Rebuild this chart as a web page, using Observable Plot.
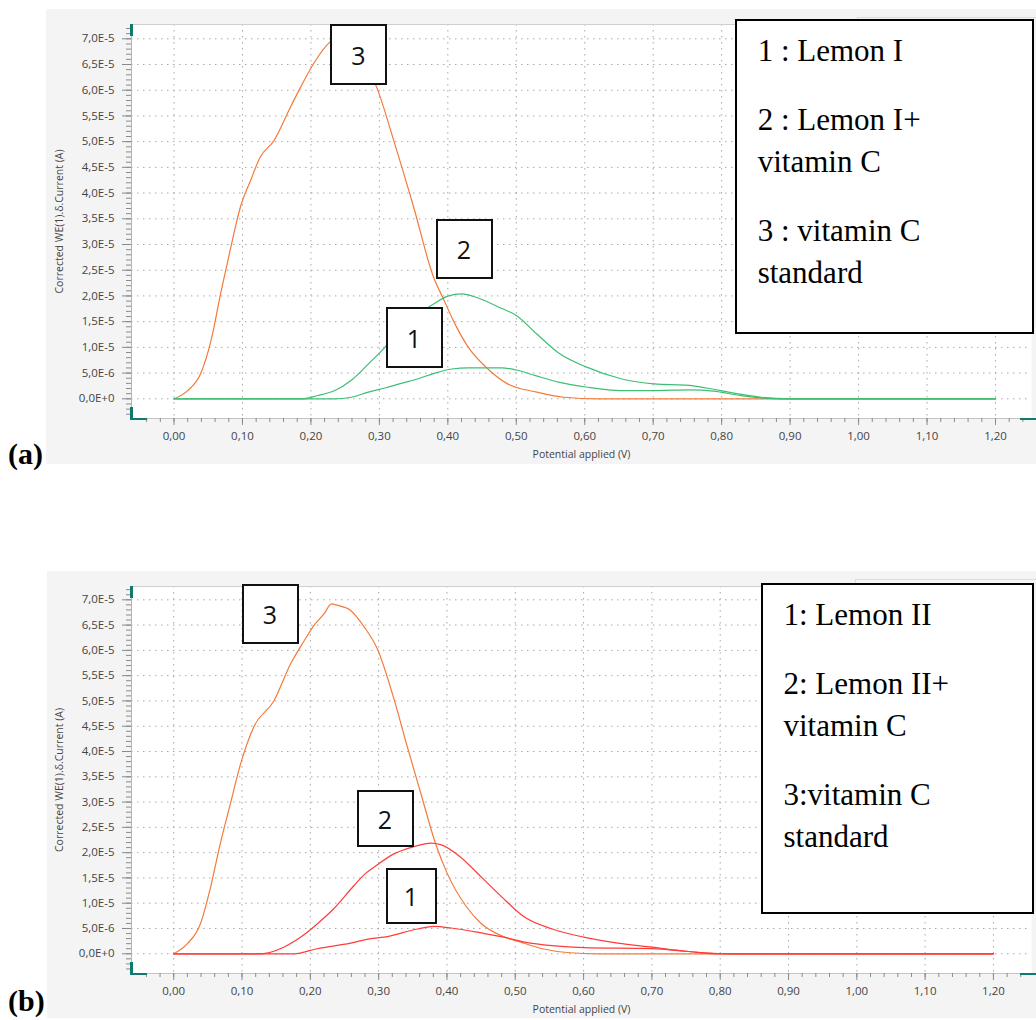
<!DOCTYPE html>
<html>
<head>
<meta charset="utf-8">
<script src="https://cdn.jsdelivr.net/npm/d3@7"></script>
<script src="https://cdn.jsdelivr.net/npm/@observablehq/plot@0.6"></script>
<style>
  body { margin: 0; background: #fff; }
  #root { position: relative; width: 1036px; height: 1020px; overflow: hidden; background: #fff; }
  .panel { position: absolute; background: #f4f4f4; }
  .panel svg { display: block; }
  .legend { position: absolute; border: 2px solid #000; background: #fff; box-sizing: border-box; }
  .ltext { position: absolute; font-family: "Liberation Serif", "Times New Roman", serif; font-size: 31px; line-height: 31px; color: #000; white-space: nowrap; }
  .num { position: absolute; border: 2px solid #111; background: #fff; box-sizing: border-box;
         font-family: "Open Sans", "Liberation Sans", sans-serif; font-size: 25px; color: #111;
         display: flex; align-items: center; justify-content: center; }
  .tag { position: absolute; font-family: "Liberation Serif", "Times New Roman", serif; font-weight: bold; font-size: 30px; line-height: 30px; color: #000; }
  .teal { position: absolute; background: #117a70; }
  .ghost { position: absolute; border-top: 1px solid #dcdcdc; border-left: 1px solid #dcdcdc; }
</style>
</head>
<body>
<div id="root"></div>
<script>
// ---------- data (potential in V, current in A) ----------
const potA1 = [0, 0.1, 0.235, 0.259, 0.284, 0.308, 0.332, 0.357, 0.381, 0.406, 0.43, 0.455, 0.479, 0.5, 0.528, 0.563, 0.602, 0.653, 0.701, 0.753, 0.788, 0.828, 0.868, 0.9, 1.0, 1.1, 1.2];
const curA1 = [0, 0, 0, 0.3e-6, 1.3e-6, 2.1e-6, 3.0e-6, 3.9e-6, 5.0e-6, 5.8e-6, 6.0e-6, 6.0e-6, 6.0e-6, 5.6e-6, 4.5e-6, 3.2e-6, 2.3e-6, 1.6e-6, 1.6e-6, 1.75e-6, 1.5e-6, 0.6e-6, 0.1e-6, 0, 0, 0, 0];

const potA2 = [0, 0.1, 0.186, 0.21, 0.235, 0.259, 0.284, 0.308, 0.332, 0.357, 0.381, 0.401, 0.42, 0.444, 0.478, 0.5, 0.53, 0.563, 0.602, 0.653, 0.701, 0.753, 0.778, 0.818, 0.858, 0.9, 1.0, 1.1, 1.2];
const curA2 = [0, 0, 0, 0.65e-6, 1.6e-6, 3.6e-6, 6.8e-6, 10.0e-6, 13.9e-6, 16.5e-6, 18.6e-6, 20.0e-6, 20.4e-6, 19.6e-6, 17.6e-6, 16.2e-6, 12.6e-6, 8.8e-6, 6.2e-6, 3.9e-6, 2.9e-6, 2.6e-6, 2.1e-6, 1.1e-6, 0.3e-6, 0, 0, 0, 0];

const potA3 = [0, 0.02, 0.039, 0.054, 0.068, 0.083, 0.097, 0.112, 0.126, 0.146, 0.17, 0.185, 0.204, 0.228, 0.25, 0.27, 0.296, 0.321, 0.35, 0.379, 0.394, 0.408, 0.43, 0.457, 0.486, 0.53, 0.57, 0.62, 0.8, 1.0, 1.2];
const curA3 = [0, 1.6e-6, 4.9e-6, 11.3e-6, 20.4e-6, 29.5e-6, 37.3e-6, 42.5e-6, 47.0e-6, 50.2e-6, 56.7e-6, 60.6e-6, 65.2e-6, 69.4e-6, 70.8e-6, 67.0e-6, 60.6e-6, 50.2e-6, 37.3e-6, 23.7e-6, 19.3e-6, 15.2e-6, 10.0e-6, 6.0e-6, 3.0e-6, 1.3e-6, 0.3e-6, 0, 0, 0, 0];

const potB1 = [0, 0.176, 0.21, 0.259, 0.288, 0.308, 0.357, 0.381, 0.406, 0.455, 0.479, 0.514, 0.554, 0.6, 0.7, 0.75, 0.8, 1.0, 1.2];
const curB1 = [0, 0, 1.0e-6, 2.1e-6, 3.0e-6, 3.3e-6, 4.9e-6, 5.4e-6, 5.1e-6, 4.0e-6, 3.4e-6, 2.3e-6, 1.6e-6, 1.2e-6, 1.0e-6, 0.5e-6, 0, 0, 0];

const potB2 = [0, 0.1, 0.127, 0.161, 0.186, 0.21, 0.232, 0.264, 0.28, 0.293, 0.323, 0.352, 0.376, 0.391, 0.42, 0.45, 0.479, 0.514, 0.554, 0.6, 0.65, 0.7, 0.75, 0.79, 0.82, 1.0, 1.2];
const curB2 = [0, 0, 0, 1.3e-6, 3.3e-6, 5.9e-6, 8.6e-6, 13.5e-6, 15.8e-6, 17.1e-6, 19.8e-6, 21.2e-6, 21.9e-6, 21.6e-6, 19.1e-6, 15.2e-6, 11.4e-6, 7.2e-6, 4.9e-6, 3.3e-6, 2.1e-6, 1.3e-6, 0.5e-6, 0.1e-6, 0, 0, 0];

const potB3 = [0, 0.02, 0.039, 0.054, 0.068, 0.083, 0.098, 0.117, 0.147, 0.171, 0.191, 0.205, 0.22, 0.231, 0.24, 0.259, 0.279, 0.298, 0.323, 0.342, 0.362, 0.384, 0.4, 0.428, 0.45, 0.479, 0.508, 0.54, 0.58, 0.62, 0.8, 1.0, 1.2];
const curB3 = [0, 2.0e-6, 5.9e-6, 13.2e-6, 21.7e-6, 29.7e-6, 37.6e-6, 44.8e-6, 50.1e-6, 57.3e-6, 61.9e-6, 64.9e-6, 67.2e-6, 69.2e-6, 68.9e-6, 67.9e-6, 64.6e-6, 60.3e-6, 50.1e-6, 40.9e-6, 31.6e-6, 21.5e-6, 16.0e-6, 9.4e-6, 6.0e-6, 3.6e-6, 2.3e-6, 1.0e-6, 0.2e-6, 0, 0, 0, 0];

// tick values
const xTicks = [0, 0.1, 0.2, 0.3, 0.4, 0.5, 0.6, 0.7, 0.8, 0.9, 1.0, 1.1, 1.2];
const yTicks = [0, 0.5e-5, 1.0e-5, 1.5e-5, 2.0e-5, 2.5e-5, 3.0e-5, 3.5e-5, 4.0e-5, 4.5e-5, 5.0e-5, 5.5e-5, 6.0e-5, 6.5e-5, 7.0e-5];
const xMinor = d3.range(-2, 63).map(i => i * 0.02);
const yMinor = d3.range(-3, 73).map(i => i * 1e-6);

const legendA = ["1 : Lemon I", "2 : Lemon I+", "vitamin C", "3 : vitamin C", "standard"];
const legendB = ["1: Lemon II", "2: Lemon II+", "vitamin C", "3:vitamin C", "standard"];

const xTitle = "Potential applied (V)";
const yTitle = "Corrected WE(1).δ.Current (A)";

const ORANGE = "#f47a3a", GREEN = "#3cbf74", RED = "#ff3c3c";

function series(pot, cur, name) { return pot.map((p, i) => ({ p, c: cur[i], s: name })); }
const fmtX = d => d.toFixed(2).replace(".", ",");
const fmtY = d => {
  if (Math.abs(d) < 1e-12) return "0,0E+0";
  const e = Math.floor(Math.log10(d) + 1e-9);
  return (d / Math.pow(10, e)).toFixed(1).replace(".", ",") + "E" + e;
};

const root = document.getElementById("root");
function add(cls, css, text) {
  const el = document.createElement("div");
  el.className = cls;
  Object.assign(el.style, css);
  if (text != null) el.textContent = text;
  root.appendChild(el);
  return el;
}

function panel({left, top, width, height, mL, mT, mR, mB, xDomain, yDomain, lines}) {
  const div = add("panel", {left: left + "px", top: top + "px", width: width + "px", height: height + "px"});
  const chart = Plot.plot({
    width, height,
    marginLeft: mL, marginTop: mT, marginRight: mR, marginBottom: mB,
    style: {background: "transparent", fontFamily: "'Open Sans', 'Noto Sans', sans-serif", fontSize: "11px", color: "#555"},
    x: {domain: xDomain},
    y: {domain: yDomain},
    marks: [
      Plot.frame({fill: "white", stroke: "none"}),
      Plot.gridX(xTicks, {stroke: "#a8a8a8", strokeOpacity: 1, strokeDasharray: "1.5,4.5"}),
      Plot.gridY(yTicks, {stroke: "#a8a8a8", strokeOpacity: 1, strokeDasharray: "1.5,4.5"}),
      Plot.frame({anchor: "top", stroke: "#cfcfcf"}),
      Plot.frame({anchor: "left", stroke: "#b5b5b5"}),
      Plot.frame({anchor: "bottom", stroke: "#c5c5c5"}),
      ...lines.map(l => Plot.line(l.data, {x: "p", y: "c", stroke: l.color, strokeWidth: 1.2, curve: "monotone-x"})),
      Plot.axisY(yMinor, {tickSize: 5, tickFormat: () => "", stroke: "#8a8a8a", label: null}),
      Plot.axisY(yTicks, {tickSize: 9, tickPadding: 8, tickFormat: fmtY, stroke: "#8a8a8a", fill: "#444", fontSize: 11.5,
        label: yTitle, labelAnchor: "center", labelArrow: "none", labelOffset: 76}),
      Plot.axisX(xMinor, {tickSize: 4, tickFormat: () => "", stroke: "#8a8a8a", label: null}),
      Plot.axisX(xTicks, {tickSize: 7, tickPadding: 6, tickFormat: fmtX, stroke: "#8a8a8a", fill: "#444", fontSize: 11.5,
        label: xTitle, labelAnchor: "center", labelArrow: "none", labelOffset: 39})
    ]
  });
  chart.querySelectorAll("g[aria-label='y-axis label'] text, g[aria-label='x-axis label'] text").forEach(t => t.setAttribute("font-size", "10.5"));
  div.appendChild(chart);
  return div;
}

// ---------- panel (a) ----------
panel({
  left: 46, top: 9, width: 990, height: 455, mL: 85, mT: 15, mR: 5, mB: 46,
  xDomain: [-0.0621, 1.2526], yDomain: [-3.83e-6, 7.278e-5],
  lines: [
    {data: series(potA3, curA3, "3"), color: ORANGE},
    {data: series(potA2, curA2, "2"), color: GREEN},
    {data: series(potA1, curA1, "1"), color: GREEN}
  ]
});
// ---------- panel (b) ----------
panel({
  left: 47, top: 571, width: 989, height: 447, mL: 84, mT: 15, mR: 5, mB: 45,
  xDomain: [-0.0618, 1.2557], yDomain: [-3.9e-6, 7.263e-5],
  lines: [
    {data: series(potB3, curB3, "3"), color: ORANGE},
    {data: series(potB2, curB2, "2"), color: RED},
    {data: series(potB1, curB1, "1"), color: RED}
  ]
});

// teal axis accents
[[129.5, 24, 3, 12], [130, 407, 2.5, 12], [130, 417.5, 17, 2.5], [1020, 417.5, 16, 2.5],
 [129.5, 586, 3, 12], [130, 962, 2.5, 12], [130, 972.5, 17, 2.5], [1020, 972.5, 16, 2.5]]
  .forEach(([l, t, w, h]) => add("teal", {left: l + "px", top: t + "px", width: w + "px", height: h + "px"}));

// faint original legend frames
add("ghost", {left: "857px", top: "17px", width: "179px", height: "20px"});
add("ghost", {left: "855px", top: "579px", width: "181px", height: "20px"});

// legend boxes
add("legend", {left: "735px", top: "19px", width: "299px", height: "315px"});
[[757.7, 35], [757.7, 104], [757.7, 145.7], [757.7, 214.7], [757.7, 256.7]]
  .forEach(([l, t], i) => add("ltext", {left: l + "px", top: t + "px"}, legendA[i]));
add("legend", {left: "761px", top: "583px", width: "273px", height: "331px"});
[[783.5, 599], [783.5, 668], [783.5, 709.7], [783.5, 779], [783.5, 820.7]]
  .forEach(([l, t], i) => add("ltext", {left: l + "px", top: t + "px"}, legendB[i]));

// number labels
[["3", 330, 24, 57, 61], ["2", 435.5, 219, 57, 60], ["1", 385.5, 307, 57, 61],
 ["3", 241.5, 584, 57, 60], ["2", 356.5, 790, 57, 57], ["1", 385.5, 867.5, 51, 56]]
  .forEach(([t, l, tp, w, h]) => add("num", {left: l + "px", top: tp + "px", width: w + "px", height: h + "px"}, t));

// panel tags
add("tag", {left: "8px", top: "439px"}, "(a)");
add("tag", {left: "8px", top: "986px"}, "(b)");
</script>
</body>
</html>
